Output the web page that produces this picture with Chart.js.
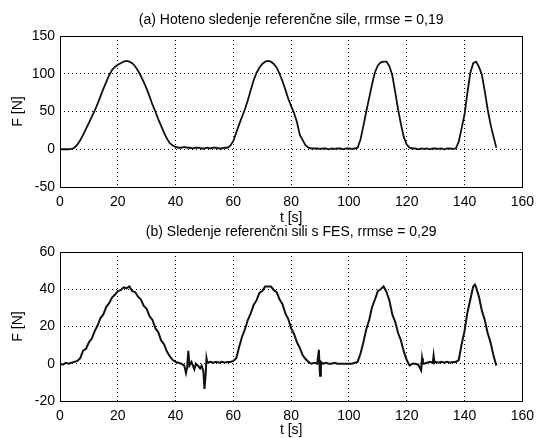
<!DOCTYPE html>
<html>
<head>
<meta charset="utf-8">
<script src="https://cdn.jsdelivr.net/npm/chart.js@4.4.0/dist/chart.umd.min.js"></script>
<style>
  html, body { margin: 0; padding: 0; background: #fff; overflow: hidden; }
  body { width: 541px; height: 438px; position: relative; }
  .box { position: absolute; left: 0; width: 541px; }
  #boxA { top: 0; height: 225px; }
  #boxB { top: 225px; height: 213px; }
</style>
</head>
<body>
<div class="box" id="boxA"><canvas id="chartA"></canvas></div>
<div class="box" id="boxB"><canvas id="chartB"></canvas></div>
<script>
// (a) voluntary tracking, t [s] and F [N]
const timeA = [0,1,2,3,4,5,6,7,8,9,10,11,12,13,14,15,16,17,18,19,20,21,22,23,24,25,26,27,28,29,
  30,31,32,33,34,35,36,37,38,39,40,41,42,43,44,45,46,47,48,49,50,51,52,53,54,55,56,57,58,59,
  60,61,62,63,64,65,66,67,68,69,70,71,72,73,74,75,76,77,78,79,80,81,82,83,84,85,86,87,88,89,
  90,91,92,93,94,95,96,97,98,99,100,101,102,103,104,105,106,107,108,109,110,111,112,113,114,115,116,117,118,119,
  120,121,122,123,124,125,126,127,128,129,130,131,132,133,134,135,136,137,138,139,140,141,142,143,144,145,146,147,148,149,150,151];
const forceA = [0,0,0,0,0.5,2,6,12,19,27,35,43,51,60,70,80,89,98,105,109,112,114,116,117,116,114,110,104,97,89,
  80,70,59,50,40,31,22,14,8,5,3,2,2,3,2,2,1,2,2,1,1,2,1,2,2,1,1,2,2,5,
  11,22,33,43,53,65,78,91,101,108,113,116,117,116,113,108,100,90,79,67,57,48,36,19,12,5,2,1,1,1,
  0.5,1,1,0,1,0.5,1,1,0,1,1,0.5,1,2,13,31,50,68,86,102,111,115,116,116,110,98,76,53,33,16,
  6,2,1,1,0,1,0.5,1,0,1,1,0.5,1,0,1,1,0.5,1,10,28,46,75,101,114,116,109,99,77,53,33,17,2];

// (b) tracking with FES
const timeB = [0,1,2,3,4,5,6,7,8,9,10,11,12,13,14,15,16,17,18,19,20,21,22,23,24,25,26,27,28,29,
  30,31,32,33,34,35,36,37,38,39,40,41,42,43,43.6,44,44.4,44.8,45.5,46,46.5,47,48,48.5,49,49.6,50,50.4,50.7,51,
  52,53,54,55,56,57,58,59,60,61,62,63,64,65,66,67,68,69,70,71,72,73,74,75,76,77,78,79,80,81,
  82,83,84,85,86,87,88,89,89.6,89.8,90,90.3,91,92,93,94,95,96,97,98,99,100,101,102,103,104,105,106,107,108,
  109,110,111,112,113,114,115,116,117,118,119,120,121,122,123,124,125,125.3,125.6,126,127,128,129,129.3,129.6,130,
  131,132,133,134,135,136,137,138,139,140,141,142,143,143.6,144,145,146,147,148,149,150,151];
const forceB = [0,-0.5,0.5,0,0.5,1,1.5,3,7,8,11.5,13.5,17.5,20.5,24.5,26.5,30.5,32.5,35.5,37,39,39.5,41,40.5,41.5,39,38.5,36,34.5,31,
  29.5,25.5,23.5,19,17,12.5,10.5,6.5,4,2,1,0.5,0,-1,-5,-2,7,-1,1,-1,-3,0,-1.5,-2.5,-1,-4,-13.5,-6,3,0.5,
  1,0.5,1,0.5,1,0.5,1,1,1.5,3,9,14.5,18.5,23.5,27,31.5,34,38,39,41.5,41.5,41.5,39.5,38.5,34.5,32,27,24,19,16,
  11.5,8.5,4.5,2.5,1,0,0.5,0,7.5,-1,-6.5,1,0,0.5,0,0,0.5,0,0,0,0,0,0,0.5,1,5.5,11.5,18.5,23.5,30.5,
  34.5,39,40,41.5,38.5,34,26.5,22.5,16.5,12.5,6.5,2,-1,0,0,-0.5,-3.5,3,0,0,0.5,1,0.5,4.5,0.5,1,
  0.5,1,0.5,1,0.5,1,1,2,10.5,17.5,27.5,34.5,41.5,42.5,41,36,28.5,23.5,16.5,11.5,4.5,-1];

const xTicks = [0, 20, 40, 60, 80, 100, 120, 140, 160];
const yTicksA = [-50, 0, 50, 100, 150];
const yTicksB = [-20, 0, 20, 40, 60];

const FONT = "'Liberation Sans', Arial, Helvetica, sans-serif";

// MATLAB-like box round the axes
const frame = {
  id: "frame",
  afterDatasetsDraw(chart) {
    const { ctx, chartArea: a } = chart;
    ctx.save();
    ctx.strokeStyle = "#000";
    ctx.lineWidth = 1;
    ctx.strokeRect(Math.round(a.left) + 0.5, Math.round(a.top) + 0.5,
      Math.round(a.right - a.left), Math.round(a.bottom - a.top));
    ctx.restore();
  }
};

function makeChart(id, xs, ys, yTicks, title, opt) {
  const pts = xs.map((x, i) => ({ x, y: ys[i] }));
  return new Chart(document.getElementById(id), {
    type: "line",
    data: {
      datasets: [{
        data: pts,
        borderColor: "#111",
        borderWidth: opt.lineWidth,
        pointRadius: 0,
        tension: 0
      }]
    },
    options: {
      responsive: true,
      maintainAspectRatio: false,
      animation: false,
      layout: { padding: { left: 0, right: 13, top: 0, bottom: 0 } },
      plugins: {
        legend: { display: false },
        tooltip: { enabled: false },
        title: {
          display: true,
          text: title,
          fullSize: false,
          color: "#000",
          font: { family: FONT, size: 14, weight: "normal", lineHeight: 1 },
          padding: { top: opt.titleTop, bottom: opt.titleBottom }
        }
      },
      scales: {
        x: {
          type: "linear",
          min: 0,
          max: 160,
          afterBuildTicks(s) { s.ticks = xTicks.map(v => ({ value: v })); },
          afterFit(s) { s.height = opt.xHeight; },
          border: { display: false, dash: [1, 3] },
          grid: { color: "#000", lineWidth: 1, drawTicks: false, tickLength: 0 },
          ticks: { color: "#000", padding: 7, maxRotation: 0, font: { family: FONT, size: 14 } },
          title: {
            display: true, text: "t [s]", color: "#000",
            font: { family: FONT, size: 14, lineHeight: 1 },
            padding: { top: 0, bottom: opt.xTitleBottom }
          }
        },
        y: {
          type: "linear",
          min: yTicks[0],
          max: yTicks[yTicks.length - 1],
          afterBuildTicks(s) { s.ticks = yTicks.map(v => ({ value: v })); },
          afterFit(s) { s.width = 60; },
          border: { display: false, dash: [1, 3] },
          grid: { color: "#000", lineWidth: 1, drawTicks: false, tickLength: 0 },
          ticks: { color: "#000", padding: 5, font: { family: FONT, size: 14 } },
          title: {
            display: true, text: "F [N]", color: "#000",
            font: { family: FONT, size: 14, lineHeight: 1 },
            padding: { top: 11, bottom: 0 }
          }
        }
      }
    },
    plugins: [frame]
  });
}

// chart A canvas: 0..225, plot area 36..187
makeChart("chartA", timeA, forceA, yTicksA,
  "(a) Hoteno sledenje referenčne sile, rrmse = 0,19",
  { lineWidth: 1.8, titleTop: 13, titleBottom: 9, xHeight: 38, xTitleBottom: 0 });

// chart B canvas: 225..438, plot area 252..401
makeChart("chartB", timeB, forceB, yTicksB,
  "(b) Sledenje referenčni sili s FES, rrmse = 0,29",
  { lineWidth: 2, titleTop: 0, titleBottom: 13, xHeight: 37, xTitleBottom: 1 });
</script>
</body>
</html>
